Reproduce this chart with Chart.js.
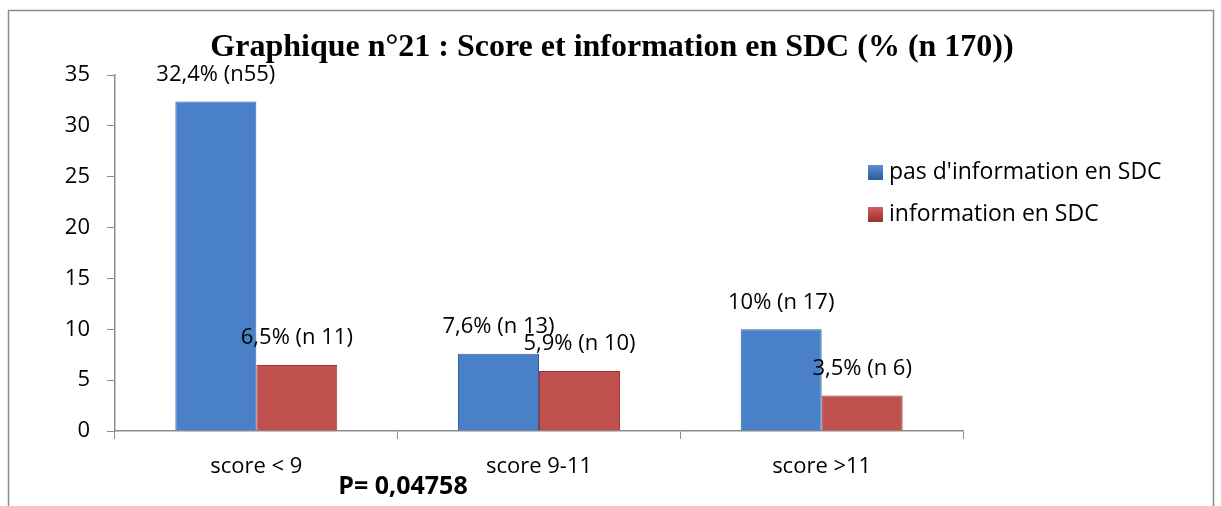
<!DOCTYPE html>
<html>
<head>
<meta charset="utf-8">
<script src="https://cdn.jsdelivr.net/npm/chart.js@4.4.1/dist/chart.umd.min.js"></script>
<style>
  html, body { margin: 0; padding: 0; background: #fff; }
  #wrap { width: 1221px; height: 506px; position: relative; }
</style>
</head>
<body>
<div id="wrap"><canvas id="my-chart"></canvas></div>
<script>
const categories = ['score < 9', 'score 9-11', 'score >11'];
const seriesNames = ["pas d'information en SDC", 'information en SDC'];
const noInfo = [32.4, 7.6, 10];
const withInfo = [6.5, 5.9, 3.5];
const noInfoLabels = ['32,4% (n55)', '7,6% (n 13)', '10% (n 17)'];
const withInfoLabels = ['6,5% (n 11)', '5,9% (n 10)', '3,5% (n 6)'];
const yTicks = [0, 5, 10, 15, 20, 25, 30, 35];
const chartTitle = 'Graphique n°21 : Score et information en SDC (% (n 170))';
const pValue = 'P= 0,04758';

const bodyFont = "'Open Sans', 'Lato', sans-serif";
const blue = { dark: '#2f5f9c', mid: '#4a80c8', light: '#5b91d6' };
const red = { dark: '#9b3432', mid: '#c0504d', light: '#d25f5c' };

// fake the bevel of the original bars with a horizontal gradient
function bevel(ctx, c) {
    const chart = ctx.chart;
    const el = ctx.element;
    if (!el || !chart.chartArea || el.width === undefined) return c.mid;
    const x0 = el.x - el.width / 2, x1 = el.x + el.width / 2;
    const g = chart.ctx.createLinearGradient(x0, 0, x1, 0);
    g.addColorStop(0, c.dark);
    g.addColorStop(0.1, c.mid);
    g.addColorStop(0.5, c.light);
    g.addColorStop(0.9, c.mid);
    g.addColorStop(1, c.dark);
    return g;
}

const decorations = {
    id: 'decorations',
    afterDraw(chart) {
        const ctx = chart.ctx;
        ctx.save();
        // frame
        ctx.strokeStyle = '#8c8c8c';
        ctx.lineWidth = 1.5;
        ctx.beginPath();
        ctx.moveTo(8.5, 506);
        ctx.lineTo(8.5, 10.5);
        ctx.lineTo(1213.5, 10.5);
        ctx.lineTo(1213.5, 506);
        ctx.stroke();

        // title
        ctx.fillStyle = '#000';
        ctx.font = "bold 32px 'Liberation Serif', serif";
        ctx.textAlign = 'center';
        ctx.textBaseline = 'middle';
        ctx.fillText(chartTitle, 612, 48);

        // value labels
        ctx.font = '22px ' + bodyFont;
        [noInfoLabels, withInfoLabels].forEach((labels, di) => {
            chart.getDatasetMeta(di).data.forEach((bar, i) => {
                ctx.fillText(labels[i], bar.x, bar.y - 27);
            });
        });

        // legend
        const colors = [blue, red];
        ctx.textAlign = 'left';
        ctx.font = '23px ' + bodyFont;
        seriesNames.forEach((name, i) => {
            const y = 172 + i * 42;
            const g = ctx.createLinearGradient(0, y - 7, 0, y + 7);
            g.addColorStop(0, colors[i].light);
            g.addColorStop(1, colors[i].dark);
            ctx.fillStyle = g;
            ctx.fillRect(868, y - 7, 15, 15);
            ctx.fillStyle = '#000';
            ctx.fillText(name, 889, y);
        });

        // p value
        ctx.textAlign = 'center';
        ctx.font = 'bold 25px ' + bodyFont;
        ctx.fillText(pValue, 403, 487);
        ctx.restore();
    }
};

new Chart(document.getElementById('my-chart'), {
    type: 'bar',
    data: {
        labels: categories,
        datasets: [{
            label: seriesNames[0],
            data: noInfo,
            backgroundColor: ctx => bevel(ctx, blue),
            borderColor: blue.dark,
            borderWidth: 1
        }, {
            label: seriesNames[1],
            data: withInfo,
            backgroundColor: ctx => bevel(ctx, red),
            borderColor: red.dark,
            borderWidth: 1
        }]
    },
    options: {
        responsive: true,
        maintainAspectRatio: false,
        animation: false,
        datasets: {
            bar: { categoryPercentage: 0.573, barPercentage: 1 }
        },
        layout: { padding: { left: 0, top: 75, right: 258, bottom: 0 } },
        plugins: {
            legend: { display: false },
            title: { display: false },
            tooltip: { enabled: false }
        },
        scales: {
            x: {
                afterFit(scale) { scale.height = 75; },
                grid: { drawOnChartArea: false, drawTicks: true, tickLength: 8, color: '#8c8c8c' },
                border: { color: '#8c8c8c', width: 1.5 },
                ticks: { color: '#000', font: { family: bodyFont, size: 22 }, padding: 15 }
            },
            y: {
                min: 0,
                max: 35,
                afterFit(scale) { scale.width = 115; },
                afterBuildTicks(scale) { scale.ticks = yTicks.map(v => ({ value: v })); },
                grid: { drawOnChartArea: false, drawTicks: true, tickLength: 8, color: '#8c8c8c' },
                border: { color: '#8c8c8c', width: 1.5 },
                ticks: { color: '#000', font: { family: bodyFont, size: 22 }, padding: 17 }
            }
        }
    },
    plugins: [decorations]
});
</script>
</body>
</html>
